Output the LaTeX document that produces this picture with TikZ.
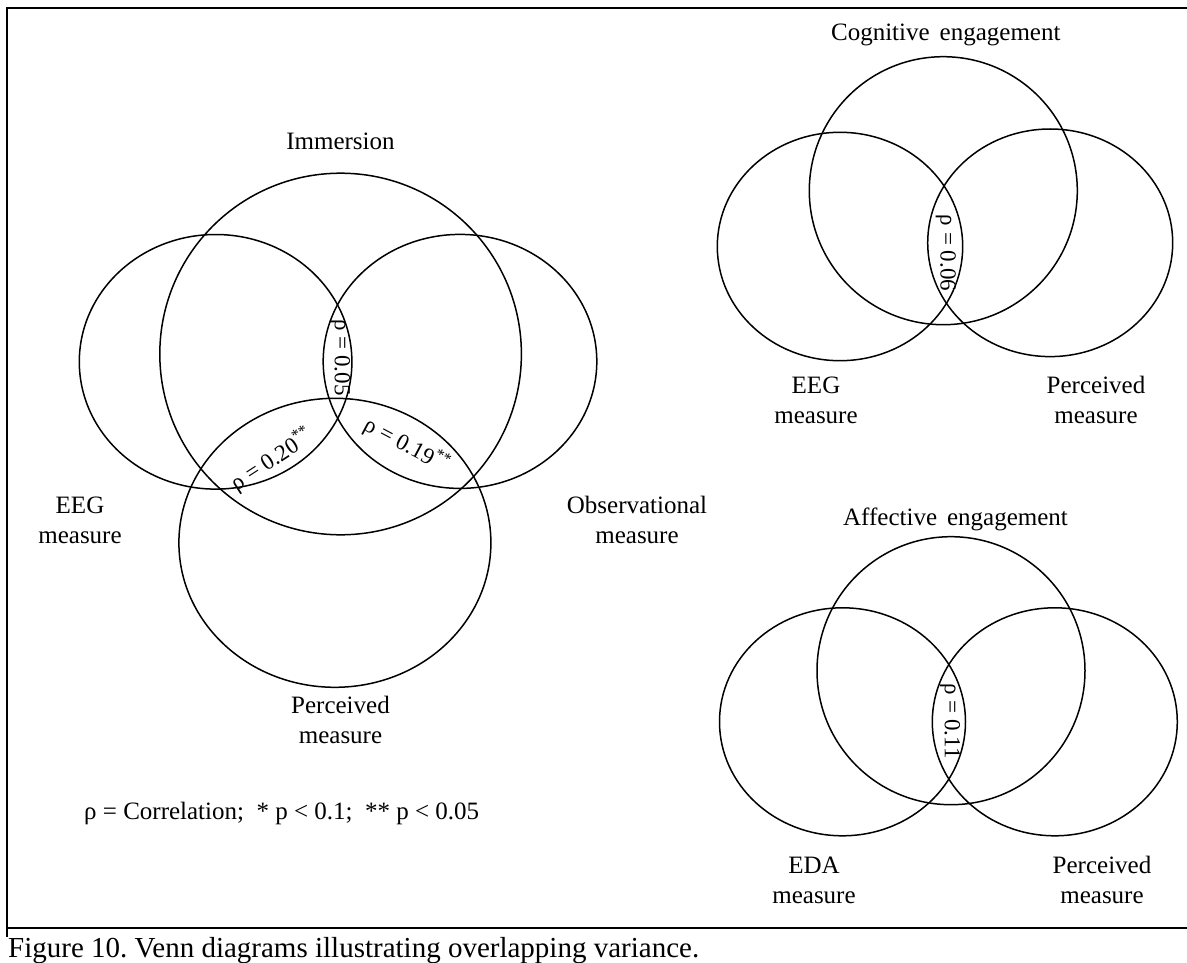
\documentclass[tikz,border=0pt]{standalone}
\usepackage{fontspec}
\setmainfont{Liberation Serif}
\frenchspacing
\begin{document}
\begin{tikzpicture}[x=1pt,y=-1pt,
  set/.style={line width=1.5pt},
  frame/.style={line width=2.5pt},
  lbl/.style={font=\fontsize{25}{30}\selectfont, align=center, inner sep=0pt, anchor=base},
  corr/.style={font=\fontsize{23}{27}\selectfont, inner sep=0pt, anchor=center},
]
\useasboundingbox (0,0) rectangle (1187,963);

% frame of the figure cell
\draw[frame] (1187,8) -- (7,8) -- (7,937);
\draw[frame] (7,928) -- (1187,928);

% ---- Immersion ----
\draw[set] (340.6,354) circle [radius=180.8pt];
\draw[set] (215.6,361.8) ellipse [x radius=136.3pt, y radius=127.3pt];
\draw[set] (460,361.4) ellipse [x radius=136.8pt, y radius=127pt];
\draw[set] (334.9,542.8) ellipse [x radius=156pt, y radius=144.5pt];

% two-line labels are placed by the baseline of their last line
\node[lbl] (imm) at (340.5,150) {Immersion};
\node[lbl] (eegA) at (80,543) {EEG\\measure};
\node[lbl] (obsA) at (637,543) {Observational\\measure};
\node[lbl] (perA) at (340.5,743) {Perceived\\measure};
\node[corr, rotate=-90] (r05) at (340,357.5) {ρ = 0.05};
\node[corr, rotate=33] (r20) at (271.5,459.6) {ρ = 0.20\textsuperscript{**}};
\node[corr, rotate=-28] (r19) at (406.7,445) {ρ = 0.19\textsuperscript{**}};
\node[lbl, anchor=base west] (legend) at (84,819) {ρ = Correlation;\ \ * p < 0.1;\ \ ** p < 0.05};

% ---- Cognitive engagement ----
\draw[set] (943.3,190.7) circle [radius=134pt];
\draw[set] (840,246.5) ellipse [x radius=122.7pt, y radius=114.2pt];
\draw[set] (1050.2,242.8) ellipse [x radius=122.5pt, y radius=113.8pt];

\node[lbl] (cog) at (945.8,41) {Cognitive\hspace{0.4em}engagement};
\node[lbl] (eegB) at (816,423.5) {EEG\\measure};
\node[lbl] (perB) at (1096,423.5) {Perceived\\measure};
\node[corr, rotate=-90] (r06) at (945.8,253) {ρ = 0.06};

% ---- Affective engagement ----
\draw[set] (951,670.7) circle [radius=134pt];
\draw[set] (842.5,721.8) ellipse [x radius=123pt, y radius=114pt];
\draw[set] (1054.8,721.8) ellipse [x radius=122.5pt, y radius=114pt];

\node[lbl] (aff) at (955.5,525) {Affective\hspace{0.4em}engagement};
\node[lbl] (edaC) at (814,903) {EDA\\measure};
\node[lbl] (perC) at (1102,903) {Perceived\\measure};
\node[corr, rotate=-90] (r11) at (950,721) {ρ = 0.11};

% caption
\node[font=\fontsize{29}{34}\selectfont, inner sep=0pt, anchor=base west] (cap) at (8,957)
  {Figure 10. Venn diagrams illustrating overlapping variance.};
\end{tikzpicture}
\end{document}
